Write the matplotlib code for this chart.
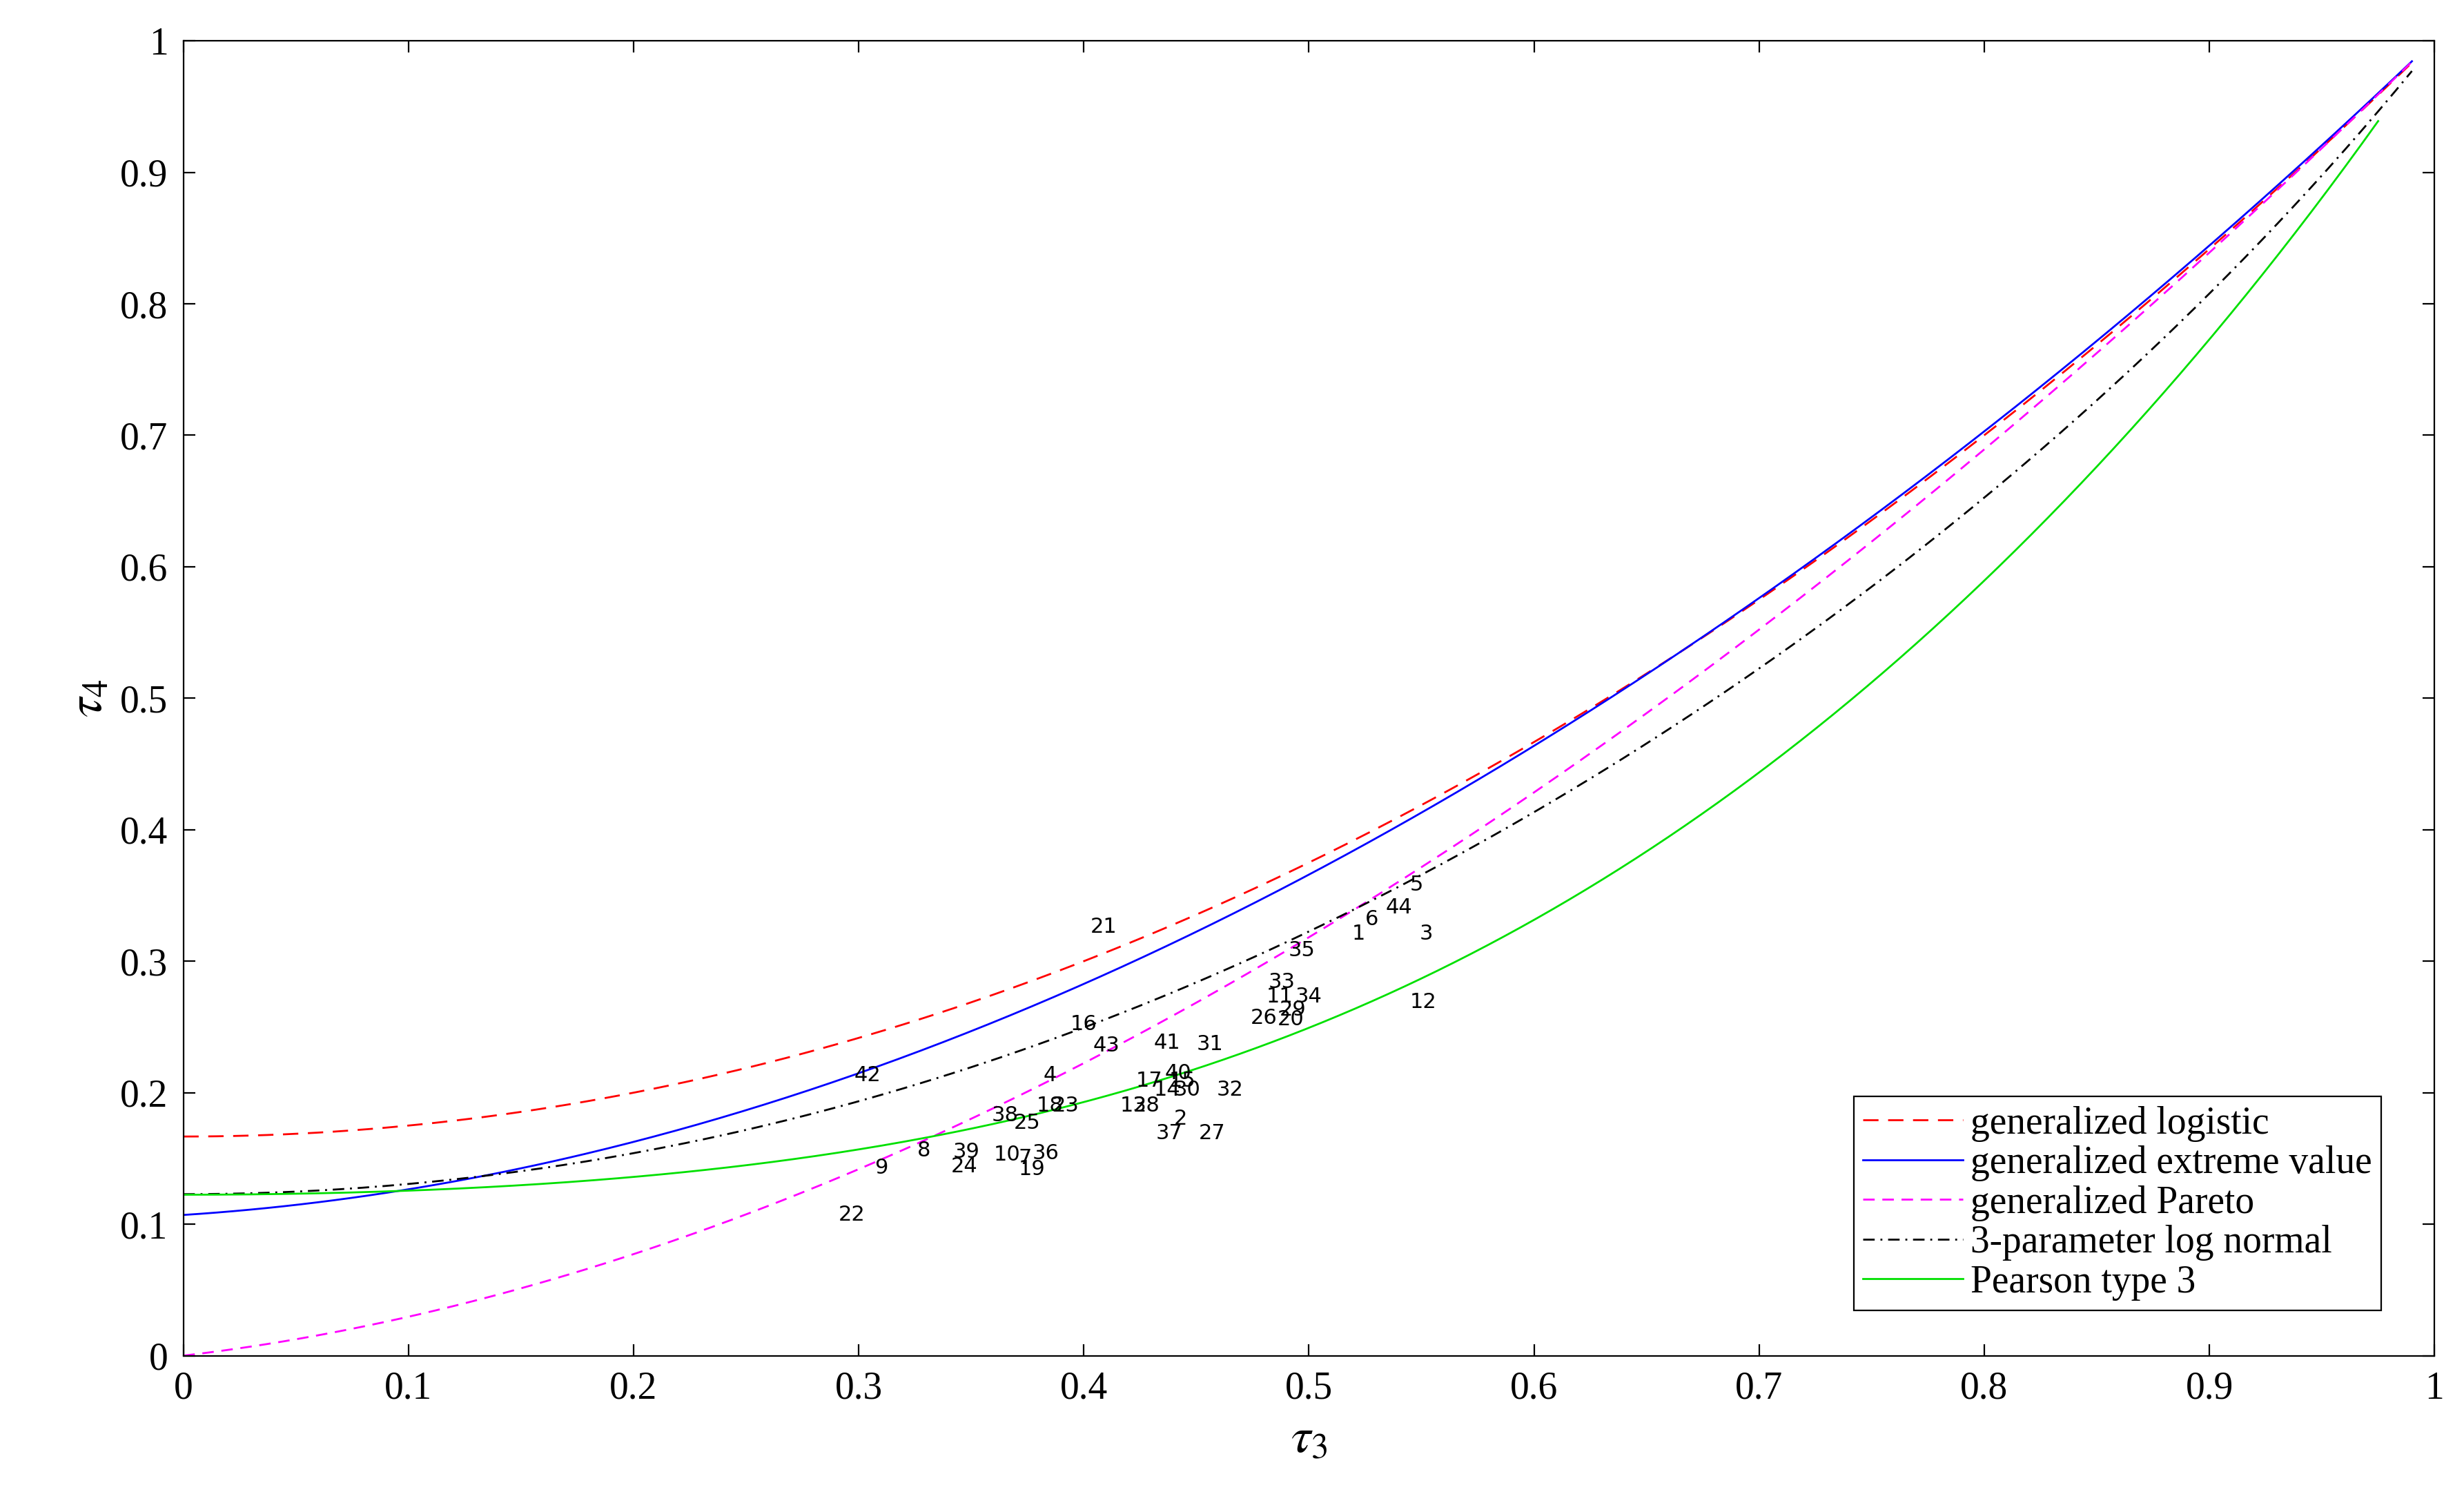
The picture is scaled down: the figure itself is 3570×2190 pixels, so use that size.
import numpy as np
import matplotlib
matplotlib.use('Agg')
import matplotlib.pyplot as plt

plt.rcParams['mathtext.fontset'] = 'stix'

# Hosking polynomial approximations of tau4 as function of tau3 (coefficients)
glo_coef = [1 / 6, 0, 5 / 6]
gev_coef = [0.10701, 0.11090, 0.84838, -0.06669, 0.00567, -0.04208, 0.03763]
gpa_coef = [0, 0.20196, 0.95924, -0.20096, 0.04061]
ln3_coef = [0.12282, 0, 0.77518, 0, 0.12279, 0, -0.13638, 0, 0.11368]
pe3_coef = [0.12240, 0, 0.30115, 0, 0.95812, 0, -0.57488, 0, 0.19383]

# site sample L-moment ratios
site_ids = [21, 5, 44, 6, 1, 3, 35, 33, 11, 34, 29, 26, 20, 12, 16, 43, 41, 31, 42, 4,
            17, 40, 15, 14, 30, 32, 18, 23, 13, 28, 38, 25, 2, 37, 27, 8, 39, 24, 10, 7,
            36, 19, 9, 22]
tau3 = [0.403, 0.545, 0.534, 0.525, 0.519, 0.549, 0.491, 0.482, 0.481, 0.494, 0.487, 0.474,
        0.486, 0.545, 0.394, 0.404, 0.431, 0.450, 0.298, 0.382, 0.423, 0.436, 0.438, 0.431,
        0.440, 0.459, 0.379, 0.386, 0.416, 0.422, 0.359, 0.369, 0.440, 0.432, 0.451, 0.326,
        0.342, 0.341, 0.360, 0.371, 0.377, 0.371, 0.307, 0.291]
tau4 = [0.326, 0.358, 0.341, 0.332, 0.321, 0.321, 0.308, 0.284, 0.273, 0.273, 0.263, 0.257,
        0.256, 0.269, 0.252, 0.236, 0.238, 0.237, 0.213, 0.213, 0.209, 0.215, 0.209, 0.202,
        0.202, 0.202, 0.190, 0.190, 0.190, 0.190, 0.183, 0.177, 0.180, 0.169, 0.169, 0.156,
        0.155, 0.144, 0.153, 0.150, 0.154, 0.142, 0.143, 0.107]

curves = [
    ('generalized logistic', glo_coef, 0.99, dict(color='red', ls=(0, (8, 5)))),
    ('generalized extreme value', gev_coef, 0.99, dict(color='blue', ls='-')),
    ('generalized Pareto', gpa_coef, 0.99, dict(color='magenta', ls=(0, (6, 4)))),
    ('3-parameter log normal', ln3_coef, 0.99, dict(color='black', ls=(0, (6, 3, 1, 3)))),
    ('Pearson type 3', pe3_coef, 0.975, dict(color='#00e000', ls='-')),
]

fig = plt.figure(figsize=(17.85, 10.95), dpi=200)
ax = fig.add_axes([0.0744, 0.1034, 0.9136, 0.8696])

for name, coef, xmax, style in curves:
    t = np.linspace(0, xmax, 400)
    y = np.polynomial.polynomial.polyval(t, coef)
    ax.plot(t, y, lw=1.0, label=name, **style)

for sid, x, y in zip(site_ids, tau3, tau4):
    ax.text(x, y, str(sid), fontsize=11, ha='left', va='center', family='DejaVu Sans')

ax.set_xlim(0, 1)
ax.set_ylim(0, 1)
ax.set_xticks(np.arange(0, 1.01, 0.1))
ax.set_yticks(np.arange(0, 1.01, 0.1))
ax.set_xticklabels(['0'] + [f'{v:.1f}' for v in np.arange(0.1, 0.95, 0.1)] + ['1'])
ax.set_yticklabels(['0'] + [f'{v:.1f}' for v in np.arange(0.1, 0.95, 0.1)] + ['1'])
ax.tick_params(direction='in', labelsize=20, length=6, top=True, right=True, pad=8)
for lab in ax.get_xticklabels() + ax.get_yticklabels():
    lab.set_family('Liberation Serif')
ax.set_xlabel(r'$\tau_3$', fontsize=26)
ax.set_ylabel(r'$\tau_4$', fontsize=26)

leg = ax.legend(loc='lower right', prop={'family': 'Liberation Serif', 'size': 20},
                fancybox=False, edgecolor='black', handlelength=2.6, handletextpad=0.2,
                labelspacing=0.1, borderpad=0.25, framealpha=1,
                bbox_to_anchor=(0.985, 0.02))
leg.get_frame().set_linewidth(0.8)

fig.savefig('out.png', dpi=200)
